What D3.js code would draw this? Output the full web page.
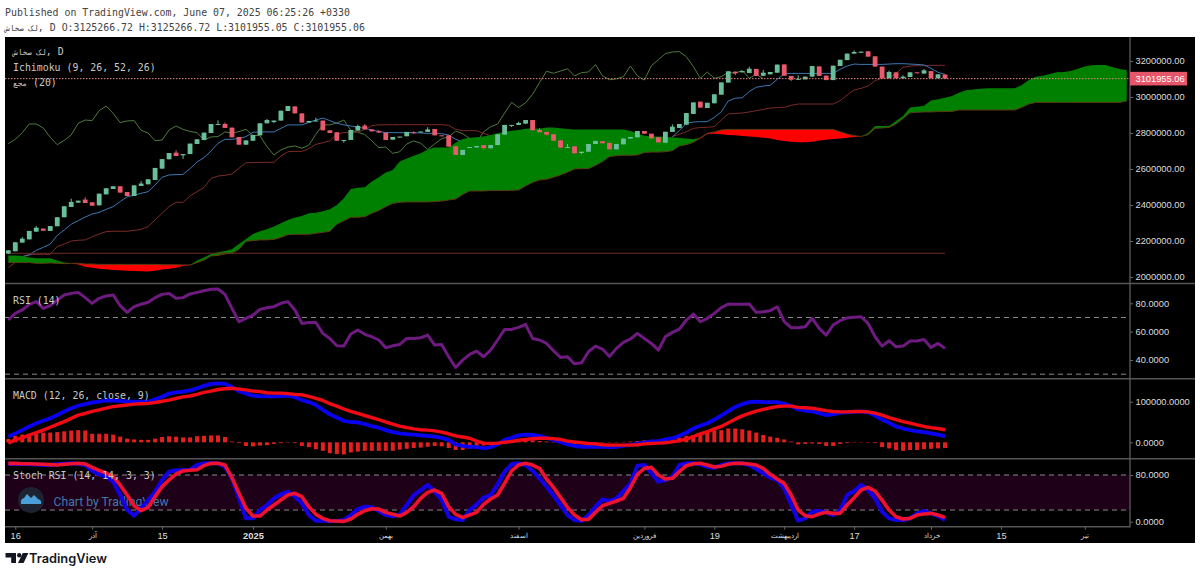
<!DOCTYPE html>
<html>
<head>
<meta charset="utf-8">
<script src="https://cdn.jsdelivr.net/npm/d3@7"></script>
<style>
  html, body { margin: 0; padding: 0; background: #fff; }
  svg { display: block; }
  .mono { font-family: "DejaVu Sans Mono", monospace; font-size: 9.9px; }
  .axis text { font-family: "Liberation Sans", sans-serif; font-size: 9.3px; fill: #ddd; }
  .axis line { stroke: #666; }
</style>
</head>
<body>
<svg id="chart" width="1200" height="574"></svg>
<script>
// prices are in thousands, macd too
const opens = [2130,2143,2191,2209,2252,2269,2256,2282,2332,2389,
  2413,2430,2415,2398,2459,2489,2504,2472,2450,2506,
  2515,2539,2602,2654,2691,2676,2683,2739,2761,2800,
  2846,2850,2830,2778,2735,2757,2787,2854,2861,2869,
  2922,2948,2909,2858,2865,2869,2815,2804,2757,2761,
  2813,2841,2820,2809,2802,2763,2776,2782,2804,2806,
  2806,2822,2787,2787,2726,2678,2720,2720,2733,2715,
  2733,2791,2843,2845,2852,2872,2817,2806,2793,2759,
  2719,2726,2689,2696,2739,2754,2745,2709,2737,2769,
  2776,2811,2796,2776,2746,2806,2828,2846,2906,2974,
  2939,2965,3013,3080,3141,3137,3133,3156,3118,3126,
  3135,3181,3117,3096,3098,3113,3170,3119,3094,3172,
  3205,3241,3246,3254,3226,3169,3104,3137,3104,3111,
  3137,3130,3144,3104,3125.267];
const highs = [2150,2193,2222,2256,2283,2269,2283,2332,2393,2435,
  2424,2443,2415,2463,2493,2504,2504,2472,2509,2533,
  2543,2606,2655,2689,2704,2683,2741,2765,2802,2850,
  2870,2858,2830,2778,2759,2789,2854,2878,2869,2924,
  2950,2948,2909,2867,2885,2869,2815,2804,2761,2817,
  2846,2850,2820,2817,2802,2778,2780,2806,2810,2810,
  2832,2822,2787,2787,2726,2706,2722,2728,2733,2733,
  2793,2845,2845,2863,2872,2872,2828,2806,2793,2759,
  2739,2726,2696,2739,2756,2754,2745,2739,2769,2778,
  2811,2811,2796,2776,2807,2848,2850,2911,2970,2974,
  2968,3015,3081,3143,3141,3144,3168,3156,3150,3139,
  3180,3181,3117,3120,3113,3172,3170,3119,3174,3207,
  3241,3259,3252,3254,3226,3169,3146,3137,3120,3137,
  3137,3155,3144,3126,3125.267];
const lows = [2128,2143,2191,2209,2252,2257,2256,2282,2332,2389,
  2413,2411,2396,2398,2459,2489,2469,2450,2450,2506,
  2515,2539,2602,2654,2672,2656,2683,2739,2761,2800,
  2846,2828,2776,2735,2735,2757,2787,2854,2854,2869,
  2922,2909,2858,2858,2865,2815,2800,2757,2746,2761,
  2813,2820,2809,2802,2761,2763,2776,2782,2795,2806,
  2806,2787,2785,2724,2678,2678,2720,2720,2715,2715,
  2733,2791,2833,2845,2852,2815,2804,2787,2757,2719,
  2719,2687,2683,2696,2739,2743,2709,2709,2737,2769,
  2776,2796,2770,2748,2746,2806,2828,2846,2906,2941,
  2939,2965,3013,3080,3122,3137,3133,3117,3118,3126,
  3135,3118,3089,3096,3098,3113,3117,3094,3094,3172,
  3205,3241,3246,3224,3169,3104,3104,3104,3104,3111,
  3132,3130,3104,3104,3101.955];
const closes = [2148,2193,2213,2256,2274,2257,2283,2332,2393,2417,
  2424,2411,2396,2463,2493,2504,2469,2450,2509,2519,
  2543,2606,2655,2689,2672,2683,2741,2765,2802,2850,
  2850,2828,2776,2735,2759,2789,2854,2872,2869,2924,
  2950,2909,2858,2867,2869,2815,2800,2757,2761,2817,
  2839,2820,2809,2802,2761,2778,2780,2806,2800,2808,
  2820,2787,2785,2724,2678,2706,2722,2728,2715,2733,
  2793,2845,2845,2856,2872,2815,2804,2791,2757,2719,
  2722,2687,2696,2739,2756,2743,2709,2739,2769,2778,
  2811,2796,2770,2748,2807,2835,2850,2911,2970,2941,
  2968,3015,3081,3143,3132,3144,3157,3117,3135,3139,
  3180,3118,3096,3101,3113,3172,3117,3094,3174,3207,
  3241,3250,3252,3224,3169,3104,3139,3104,3113,3137,
  3132,3148,3104,3126,3101.955];

// null where the line is hidden behind the cloud
const tenkan = [null,null,2113,2122,2148,2165,2183,2231,2261,2293,
  2313,2333,2350,2359,2376,2391,2419,2446,2454,2465,
  2474,2511,2554,2567,2569,2570,2602,2639,2663,2700,
  2743,2765,2765,2769,2780,2804,2806,2806,2806,2826,
  2845,2845,2845,2859,2872,2883,2869,2854,2845,2839,
  2832,2826,2817,2809,2802,2802,2802,2802,2802,2800,
  2798,2798,2796,2789,2765,2750,null,null,null,null,
  null,null,null,null,null,null,null,null,null,null,
  null,null,null,null,null,null,null,null,null,null,
  null,null,null,null,null,2780,2813,2854,2861,2863,
  2863,2887,2918,2978,2993,2996,3030,3054,3061,3065,
  3098,3128,3131,3131,3131,3131,3131,3131,3131,3154,
  3172,3183,3181,3181,3181,3181,3183,3185,3185,3183,
  3181,3178,3159,3137,3126];
const kijun = [2052,2081,2113,2126,2126,2126,2126,2169,2183,2200,
  2204,2206,2224,2239,2252,2254,2254,2254,2259,2265,
  2280,2317,2354,2391,2415,2415,2450,2474,2498,2548,
  2561,2565,2572,2604,2635,2635,2637,2637,2637,2672,
  2696,2698,2698,2713,2737,2746,2756,2795,2802,2804,
  2804,2820,2841,2845,2846,2846,2846,2846,2846,2846,
  2846,2846,2846,2843,2820,2813,2813,2813,2798,2785,
  2776,null,null,null,null,null,null,null,null,null,
  null,null,null,null,null,null,null,null,null,null,
  null,null,null,null,null,2780,2793,2807,2826,2830,
  2832,2835,2872,2906,2909,2911,2917,2924,2931,2939,
  2941,2943,2954,2961,2961,2961,2961,2961,2961,2980,
  3011,3039,3048,3061,3091,3104,3106,3131,3165,3172,
  3174,3174,3176,3176,3176];
const chikou = [2741,2765,2802,2850,2850,2828,2776,2735,2759,2789,
  2854,2872,2869,2924,2950,2909,2858,2867,2869,2815,
  2800,2757,2761,2817,2839,2820,2809,2802,2761,2778,
  2780,2806,2800,2808,2820,2787,2785,2724,2678,2706,
  2722,2728,2715,2733,2793,2845,2845,2856,2872,2815,
  2804,2791,2757,2719,2722,2687,2696,2739,2756,2743,
  2709,2739,2769,2778,2811,2796,2770,2748,2807,2835,
  2850,2911,2970,2941,2968,3015,3081,3143,3132,3144,
  3157,3117,3135,3139,3180,3118,3096,3101,3113,3172,
  3117,3094,3174,3207,3241,3250,3252,3224,3169,3104,
  3139,3104,3113,3137,3132,3148,3104,3126,3101.955];
const senkouA = [2119,2119,2117,2109,2104,2104,2104,2091,2080,2076,
  2070,2057,2052,2046,2043,2039,2037,2035,2033,2032,
  2030,2035,2041,2046,2052,2061,2065,2091,2109,2128,
  2137,2144,2154,2183,2211,2239,2254,2265,2280,2298,
  2317,2330,2339,2354,2357,2365,2376,2400,2437,2489,
  2496,2498,2530,2554,2580,2594,2641,2659,2674,2687,
  2709,2720,2720,2720,2746,2767,2774,2776,2780,2789,
  2798,2807,2813,2817,2824,2826,2824,2830,2830,2826,
  2822,2820,2820,2820,2820,2820,2820,2820,2819,2811,
  2798,2785,2781,2780,2778,2776,2772,2769,2765,2770,
  2794,2796,2793,2789,2787,2783,2780,2778,2774,2769,
  2761,2756,2752,2748,2748,2752,2759,2763,2767,2770,
  2774,2778,2781,2800,2839,2839,2839,2867,2894,2941,
  2946,2952,2980,2987,2996,3006,3024,3037,3041,3046,
  3048,3048,3048,3048,3048,3067,3094,3113,3118,3128,
  3137,3139,3144,3157,3170,3176,3178,3178,3165,3155,3148];
const senkouB = [2080,2080,2080,2080,2076,2076,2078,2076,2074,2076,
  2076,2072,2072,2070,2070,2070,2070,2070,2070,2070,
  2070,2070,2068,2068,2068,2067,2067,2080,2094,2117,
  2120,2128,2132,2154,2198,2202,2206,2206,2209,2220,
  2235,2237,2237,2237,2243,2248,2254,2293,2313,2332,
  2332,2335,2354,2370,2391,2409,2415,2417,2417,2417,
  2417,2419,2422,2428,2433,2459,2478,2478,2478,2480,
  2480,2480,2482,2483,2506,2526,2539,2543,2554,2567,
  2582,2600,2602,2602,2620,2641,2669,2674,2676,2676,
  2678,2692,2694,2694,2696,2702,2728,2735,2748,2774,
  2798,2806,2817,2820,2820,2820,2820,2820,2820,2820,
  2820,2820,2820,2820,2820,2820,2820,2820,2820,2807,
  2794,2785,2781,2791,2826,2828,2831,2850,2880,2913,
  2915,2917,2917,2919,2919,2920,2928,2928,2928,2928,
  2928,2928,2928,2928,2928,2943,2961,2970,2970,2970,
  2970,2970,2970,2970,2970,2970,2970,2970,2970,2970,2978];
const flatLevel = 2132;
const lastClose = 3101.95506;

const rsiValues = [68.2,72.9,75.3,79.3,81.2,76.4,78.3,82.3,85.9,87.0,
  87.7,84.0,80.0,83.5,85.2,85.9,78.3,73.6,77.6,79.3,
  80.7,84.0,86.3,87.0,83.5,84.0,86.6,87.7,88.9,89.9,
  90.1,86.3,76.4,67.0,69.4,71.7,75.7,76.9,77.6,80.0,
  81.2,75.3,65.8,66.5,66.5,58.8,55.2,50.0,49.8,58.3,
  61.1,58.1,56.4,54.1,48.6,50.0,51.0,55.2,55.2,55.7,
  57.6,50.5,51.0,42.3,34.7,39.9,44.0,46.3,42.3,47.0,
  54.1,61.6,61.6,63.0,65.1,55.2,54.1,51.7,46.5,41.8,
  42.3,37.3,38.0,45.8,49.8,47.7,42.5,48.2,52.4,54.8,
  58.8,55.2,51.7,47.0,56.4,59.5,61.8,68.2,72.4,67.0,
  69.4,72.9,76.9,79.5,79.3,79.3,79.5,73.6,74.1,74.8,
  77.6,67.0,62.8,62.8,63.5,69.4,62.3,57.6,64.7,67.7,
  69.8,70.1,70.5,65.8,56.4,49.8,53.6,49.3,49.8,53.4,
  53.4,54.5,48.9,51.7,48.2];
const rsiLevels = [70, 30];

const macdLine = [14,22,30,39,47,53,59,67,76,84,
  90,94,98,100,103,103,102,101,100,100,
  100,106,112,120,123,125,128,133,139,144,
  145,144,136,126,120,115,113,113,113,114,
  115,111,104,99,92,80,69,61,53,50,
  49,45,40,36,30,25,22,20,19,17,
  16,14,11,6,-5,-9,-11,-12,-15,-12,
  -5,6,11,17,19,18,16,11,6,0,
  -5,-9,-11,-11,-11,-11,-12,-11,-8,-7,
  -3,-1,2,3,7,10,16,24,34,41,
  47,56,66,77,87,94,99,100,99,99,
  99,95,89,81,78,76,72,67,69,73,
  74,75,76,74,66,56,48,39,34,30,
  27,25,22,19,15];
const signalLine = [-2,6,11,18,24,30,37,44,51,59,
  67,71,76,80,84,88,90,92,94,95,
  96,98,101,104,108,112,114,118,123,126,
  130,132,133,131,129,126,125,122,121,121,
  120,118,117,113,108,103,95,89,82,76,
  71,66,61,56,50,45,40,36,33,31,
  30,28,25,21,16,13,10,3,-2,-3,
  -2,0,2,5,7,9,10,10,9,7,
  3,1,-1,-3,-4,-6,-7,-7,-7,-7,
  -6,-4,-3,-2,-1,1,4,8,14,21,
  26,33,39,48,57,65,71,77,81,85,
  88,89,89,86,85,84,81,78,76,75,
  75,76,76,75,72,67,61,56,51,47,
  43,39,36,34,31];
const macdHist = [8,16,19,21,23,24,24,25,27,29,
  30,29,21,21,21,19,14,9,7,6,
  6,9,13,15,14,12,12,15,16,17,
  17,13,2,-2,-9,-10,-8,-7,-4,-2,
  -1,-2,-9,-12,-17,-21,-27,-29,-30,-25,
  -23,-21,-21,-21,-21,-21,-18,-16,-14,-13,
  -11,-9,-10,-14,-19,-19,-16,-12,-8,-5,
  -3,0,2,5,6,5,3,2,-1,-3,
  -5,-5,-4,-3,-2,-1,-1,-1,1,2,
  3,5,6,6,7,8,11,16,18,21,
  24,29,30,34,34,32,29,24,18,14,
  11,7,2,-5,-4,-3,-4,-9,-9,-4,
  -2,1,1,-1,-2,-12,-15,-19,-21,-19,
  -19,-17,-16,-15,-14];

const stochK = [98.9,99.4,98.9,98.3,98.3,97.1,97.1,98.3,99.4,100,
  99.4,97.1,86.9,81.1,77.1,68.6,45.7,20,10.3,22.9,
  37.1,51.4,71.4,85.7,88,88,89.1,97.1,100,100,
  100,94.3,74.3,40,5.7,5.7,20,28.6,40,46.9,
  51.4,42.9,31.4,11.4,1.7,1.7,1.1,1.1,2.9,11.4,
  21.7,25.7,24.6,18.3,11.4,9.1,12.6,28.6,45.7,54.3,
  62.9,51.4,37.1,8.6,4,2.9,20,29.7,41.1,45.7,
  64,85.7,98.3,100,97.1,86.9,74.3,60,44.6,28.6,
  11.4,2.9,1.1,11.4,25.7,38.3,35.4,40,52.6,65.7,
  96,97.1,82.9,68.6,71.4,77.1,97.1,100,100,98.3,
  93.7,92.6,97.1,100,100,100,97.1,90.3,82.9,75.4,
  71.4,57.1,28.6,1.7,5.7,17.1,18.3,16,11.4,20,
  45.7,52.6,62.9,54.3,40,17.1,5.7,2.9,2.9,5.7,
  14.3,18.3,14.3,9.7,2.9];
const stochD = [100,100,99.4,99.4,98.9,98.3,97.7,97.1,98.3,99.4,
  100,98.9,93.1,88,83.4,77.7,62.9,45.7,27.4,18.9,
  24.6,42.9,60,71.4,81.7,86.9,88,89.1,96,100,
  100,97.1,75.4,48.6,22.9,9.7,9.7,20,28.6,37.1,
  45.7,48.6,42.9,25.7,12.6,5.7,1.7,1.1,0.6,4.6,
  12.6,18.9,22.3,21.7,16,12.6,9.7,16,25.7,40,
  50.3,54.3,48.6,25.7,12.6,7.4,11.4,16,29.7,38.9,
  45.7,65.7,86.9,97.1,100,97.1,91.4,73.1,58.9,41.7,
  24.6,11.4,3.4,4,16,27.4,31.4,35.4,40,58.3,
  81.1,91.4,93.1,80,73.1,74.3,85.7,96,99.4,100,
  97.1,93.7,94.9,98.3,100,100,98.9,97.1,91.4,81.1,
  73.1,65.7,45.7,20,10.3,8.6,13.1,16,14.3,14.3,
  28.6,41.1,54.3,58.9,52.6,37.1,20,8.6,4.6,5.7,
  11.4,13.1,14.3,11.4,7.4];
const stochLevels = [80, 20];

const priceTicks = [2000,2200,2400,2600,2800,3000,3200];
const rsiTicks = [40,60,80];
const macdTicks = [0,100];
const stochTicks = [0,80];
const timeTickIndex = [1,12,22,35,54,73,91,101,111,121,132,142,154];
const timeTickLabels = ["16","آذر","15","2025","بهمن","اسفند","فروردین","19","اردیبهشت","17","خرداد","15","تیر"];

const headerLine1 = "Published on TradingView.com, June 07, 2025 06:25:26 +0330";
const symbolName = "لک صخاش";
const sumName = "مجع";
const headerLine2 = ", D O:3125266.72 H:3125266.72 L:3101955.05 C:3101955.06";

const upColor = "#6abf9b", downColor = "#e85a6c";
const left = 5, right = 1195, axisX = 1130;

const svg = d3.select("#chart");
const x = d3.scaleLinear().domain([0, 134]).range([8.3, 945]);
const yPrice = d3.scaleLinear().domain([2000, 3200]).range([277, 61]);
const yRsi = d3.scaleLinear().domain([40, 80]).range([360, 303.3]);
const yMacd = d3.scaleLinear().domain([0, 100]).range([442.3, 401.7]);
const yStoch = d3.scaleLinear().domain([0, 80]).range([521.7, 475]);

// background
svg.append("rect").attr("x", left).attr("y", 37).attr("width", right - left).attr("height", 506).attr("fill", "#000");

// one clip per pane
const defs = svg.append("defs");
function addClip(id, y0, y1) {
  defs.append("clipPath").attr("id", id).append("rect")
    .attr("x", left).attr("y", y0).attr("width", axisX - left).attr("height", y1 - y0);
  return svg.append("g").attr("clip-path", "url(#" + id + ")");
}
const pricePane = addClip("clipPrice", 37, 283);
const rsiPane = addClip("clipRsi", 284, 378);
const macdPane = addClip("clipMacd", 379.5, 458);
const stochPane = addClip("clipStoch", 459.5, 526);

function lineOf(y) {
  return d3.line().defined(d => d != null).x((d, i) => x(i)).y(d => y(d));
}
function drawLine(g, values, y, color, width) {
  g.append("path").datum(values).attr("fill", "none").attr("stroke", color)
    .attr("stroke-width", width).attr("stroke-linejoin", "round").attr("d", lineOf(y));
}

// ichimoku lines go under the cloud, candles on top of it
drawLine(pricePane, chikou, yPrice, "#4f7a3c", 1);
drawLine(pricePane, kijun, yPrice, "#7a2b28", 1);
drawLine(pricePane, tenkan, yPrice, "#3b78b4", 1);

const cloud = senkouA.map((a, i) => ({ i: i, a: a, b: senkouB[i] }));
pricePane.append("path").datum(cloud).attr("fill", "#008000")
  .attr("d", d3.area().x(d => x(d.i)).y0(d => yPrice(d.b)).y1(d => yPrice(Math.max(d.a, d.b))));
pricePane.append("path").datum(cloud).attr("fill", "#ff0000")
  .attr("d", d3.area().x(d => x(d.i)).y0(d => yPrice(d.b)).y1(d => yPrice(Math.min(d.a, d.b))));
drawLine(pricePane, senkouB, yPrice, "#5c3a12", 1);

pricePane.append("line").attr("x1", x(0)).attr("x2", x(134))
  .attr("y1", yPrice(flatLevel)).attr("y2", yPrice(flatLevel))
  .attr("stroke", "#6e2a28").attr("stroke-width", 1);

const candles = pricePane.selectAll(".candle").data(closes).enter().append("g").attr("class", "candle");
candles.append("line")
  .attr("x1", (d, i) => x(i)).attr("x2", (d, i) => x(i))
  .attr("y1", (d, i) => yPrice(highs[i])).attr("y2", (d, i) => yPrice(lows[i]))
  .attr("stroke", (d, i) => d >= opens[i] ? upColor : downColor);
candles.append("rect")
  .attr("x", (d, i) => x(i) - 2.4).attr("width", 4.8)
  .attr("y", (d, i) => yPrice(Math.max(d, opens[i])))
  .attr("height", (d, i) => Math.max(1, Math.abs(yPrice(d) - yPrice(opens[i]))))
  .attr("fill", (d, i) => d >= opens[i] ? upColor : downColor);

// last price
pricePane.append("line").attr("x1", left).attr("x2", axisX)
  .attr("y1", yPrice(lastClose)).attr("y2", yPrice(lastClose))
  .attr("stroke", "#e8857f").attr("stroke-width", 1).attr("stroke-dasharray", "1.5 1.5");

// rsi
rsiLevels.forEach(v => {
  rsiPane.append("line").attr("x1", left).attr("x2", axisX).attr("y1", yRsi(v)).attr("y2", yRsi(v))
    .attr("stroke", "#8a8a8a").attr("stroke-dasharray", "5 4");
});
drawLine(rsiPane, rsiValues, yRsi, "#6f1a80", 3);

// macd
macdPane.selectAll("rect").data(macdHist).enter().append("rect")
  .attr("x", (d, i) => x(i) - 2).attr("width", 4)
  .attr("y", d => Math.min(yMacd(d), yMacd(0)))
  .attr("height", d => Math.abs(yMacd(d) - yMacd(0)))
  .attr("fill", "#e4201e");
drawLine(macdPane, macdLine, yMacd, "#0a00f0", 3.8);
drawLine(macdPane, signalLine, yMacd, "#f00a14", 3.4);

// stoch rsi
stochPane.append("rect").attr("x", left).attr("width", axisX - left)
  .attr("y", yStoch(stochLevels[0])).attr("height", yStoch(stochLevels[1]) - yStoch(stochLevels[0]))
  .attr("fill", "#1f0019");
stochLevels.forEach(v => {
  stochPane.append("line").attr("x1", left).attr("x2", axisX).attr("y1", yStoch(v)).attr("y2", yStoch(v))
    .attr("stroke", "#8a8a8a").attr("stroke-dasharray", "5 4");
});

// watermark
const mark = stochPane.append("g");
mark.append("circle").attr("cx", 31).attr("cy", 500).attr("r", 13).attr("fill", "#1d2230");
mark.append("path").attr("fill", "#4b9fd8")
  .attr("d", "M21 504 Q20 499 24 498 L27 494 L31 498 L34 495 L38 499 Q42 500 41 504 Z");
mark.append("text").attr("x", 53.5).attr("y", 505.8)
  .attr("font-family", "Roboto, sans-serif").attr("font-size", 12.2).attr("fill", "#3f79ad")
  .text("Chart by TradingView");

drawLine(stochPane, stochK, yStoch, "#1400e6", 4);
drawLine(stochPane, stochD, yStoch, "#ee1230", 3.6);

// pane borders
const border = "#555";
[283.5, 378.7, 458.7].forEach(y => {
  svg.append("line").attr("x1", left).attr("x2", right).attr("y1", y).attr("y2", y)
    .attr("stroke", border).attr("stroke-width", 1.4);
});
svg.append("line").attr("x1", left).attr("x2", axisX).attr("y1", 526.7).attr("y2", 526.7)
  .attr("stroke", border).attr("stroke-width", 1.4);
svg.append("line").attr("x1", axisX).attr("x2", axisX).attr("y1", 37).attr("y2", 527.4)
  .attr("stroke", border).attr("stroke-width", 1.4);

// axes
function valueAxis(scale, ticks, format) {
  const a = d3.axisRight(scale).tickValues(ticks).tickSize(3).tickPadding(2.5).tickFormat(format);
  svg.append("g").attr("class", "axis").attr("transform", "translate(" + axisX + ",0)").call(a)
    .select(".domain").remove();
}
valueAxis(yPrice, priceTicks, d => (d * 1000).toFixed(2));
valueAxis(yRsi, rsiTicks, d => d.toFixed(4));
valueAxis(yMacd, macdTicks, d => (d * 1000).toFixed(4));
valueAxis(yStoch, stochTicks, d => d.toFixed(4));

const axisTime = d3.axisBottom(x).tickValues(timeTickIndex).tickSize(3).tickPadding(3)
  .tickFormat((d, i) => timeTickLabels[i]);
const timeG = svg.append("g").attr("class", "axis").attr("transform", "translate(0,526.7)").call(axisTime);
timeG.select(".domain").remove();
// the persian month names come out wide in the fallback font
timeG.selectAll("text")
  .attr("font-weight", d => d === 35 ? "bold" : null)
  .style("font-size", function () { return /[\u0600-\u06ff]/.test(this.textContent) ? "7.4px" : null; });

// last price label
svg.append("rect").attr("x", axisX).attr("y", yPrice(lastClose) - 6.8).attr("width", 57).attr("height", 13.6)
  .attr("fill", "#e6566a");
svg.append("text").attr("x", axisX + 5.5).attr("y", yPrice(lastClose) + 3.4)
  .attr("font-family", "Liberation Sans, sans-serif").attr("font-size", 9.3).attr("fill", "#fff")
  .text((lastClose * 1000).toFixed(2));

// legends
function legend(text, px, py, color, persian) {
  const t = svg.append("text").attr("class", "mono").attr("x", px).attr("y", py).attr("fill", color);
  if (persian) t.append("tspan").attr("font-size", 7.8).text(persian + "\u200e");
  t.append("tspan").text(text);
}
legend(", D", 13, 54.5, "#c8c8c8", symbolName);
legend("Ichimoku (9, 26, 52, 26)", 13, 70.5, "#c8c8c8");
legend(" (20)", 13, 85.5, "#c8c8c8", sumName);
legend("RSI (14)", 13, 303.5, "#c8c8c8");
legend("MACD (12, 26, close, 9)", 13, 399, "#c8c8c8");
legend("Stoch RSI (14, 14, 3, 3)", 13, 478.5, "#c8c8c8");

// header and footer
legend(headerLine1, 5, 16, "#444");
legend(headerLine2, 5, 30.5, "#444", symbolName);

const logo = svg.append("g").attr("fill", "#131722");
logo.append("path").attr("d", "M5.5 553H16V563H11.2V557.4H5.5Z");
logo.append("circle").attr("cx", 19.2).attr("cy", 555.2).attr("r", 2.2);
logo.append("path").attr("d", "M22.8 553H28.4L23.6 563H18Z");
svg.append("text").attr("x", 29).attr("y", 563).attr("font-family", "Inter, sans-serif")
  .attr("font-size", 12.8).attr("font-weight", 600).attr("fill", "#131722").text("TradingView");
</script>
</body>
</html>
